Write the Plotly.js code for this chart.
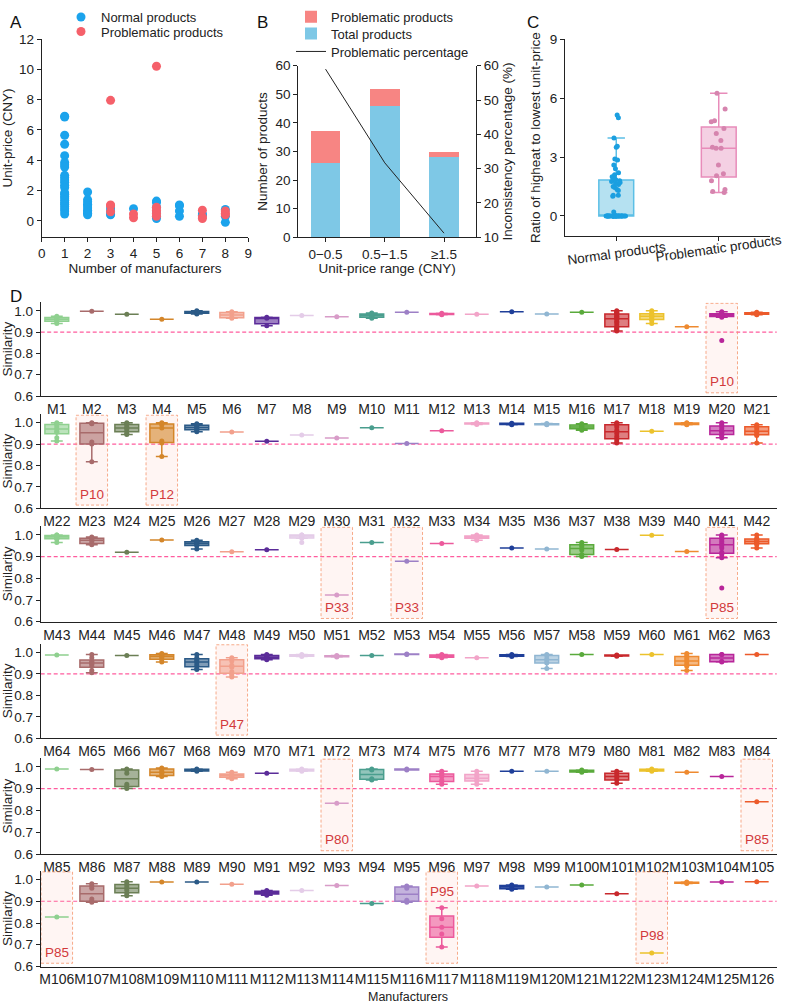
<!DOCTYPE html>
<html><head><meta charset="utf-8">
<script src="https://cdn.plot.ly/plotly-3.0.1.min.js"></script>
<style>body{margin:0;background:#fff}#chart{width:786px;height:1005px}</style>
</head><body><div id="chart"></div>
<script>
// ---------------- Panel A data ----------------
const aNormalX = [1,1,1,1,1,1,1,1,1,1,1,1,1,1,1,1,1,1,1,1,1,1,1,1,1,
                  2,2,2,2,2,2,2,2,2,2, 3,3,3,3, 4, 5,5,5,5,5,5, 6,6,6,6, 7,7, 8,8,8];
const aNormalY = [6.9,6.85,5.65,5.05,4.3,3.85,3.7,3.55,3.0,2.85,2.7,2.55,2.35,2.2,1.85,1.75,1.6,1.5,1.35,1.2,1.1,0.95,0.8,0.65,0.45,
                  1.9,1.4,1.25,1.1,1.0,0.85,0.7,0.6,0.5,0.4, 0.85,0.65,0.45,0.4, 0.8, 1.3,1.2,0.9,0.6,0.3,0.15, 1.05,1.0,0.65,0.3, 0.45,0.35, 0.75,0.3,-0.1];
const aProbX = [3,3,3,3, 4,4, 5,5,5,5,5, 7,7,7, 8,8,8];
const aProbY = [7.95,1.05,1.0,0.6, 0.45,0.2, 10.2,0.9,0.7,0.5,0.3, 0.7,0.25,0.15, 0.65,0.5,0.4];

// ---------------- Panel B data ----------------
const bCategories = ['0\u22120.5','0.5\u22121.5','\u22651.5'];
const bTotal = [26,46,28];
const bProblematic = [11,6,2];
const bPercentage = [59,31.7,11.2];

// ---------------- Panel C data ----------------
const cCategories = ['Normal products','Problematic products'];
const cNormal = [0,0,0,0,0,0,0,0,0,0,0,0,0,0,0,0,0,0,0,0,0,0,0,0,0,0,0,0,
  0.2,1.0,1.05,1.05,1.3,1.35,1.45,1.5,1.6,1.65,1.7,1.75,1.8,1.85,1.9,2.0,2.1,2.2,2.4,2.6,2.85,2.9,3.5,3.55,3.97,5.0,5.15];
const cProblematic = [1.2,1.25,1.35,1.8,2.05,2.15,2.6,3.45,3.45,3.5,3.85,4.2,4.45,4.8,4.85,5.45,6.25];

// ---------------- Panel D data ----------------
const simRow1 = [[0.94,0.95,0.955,0.96,0.965,0.97,0.975],[0.998],[0.984],[0.96],[0.985,0.99,0.993,0.996,1.0],
 [0.965,0.97,0.99,0.995],[0.93,0.965,0.97],[0.978],[0.972],[0.965,0.97,0.975,0.98,0.985,0.99],
 [0.993],[0.982,0.985,0.988],[0.984],[0.995],[0.985],[0.993],
 [0.905,0.91,0.915,0.92,0.925,0.935,0.945,0.95,0.96,0.965,0.97,0.975,0.98,0.985,0.99,0.99,0.995,1.0],
 [0.94,0.955,0.96,0.97,0.975,0.98,0.985,0.99,1.0],[0.925],[0.86,0.97,0.975,0.98,0.98,0.985,0.985,0.99,0.995],[0.982,0.985,0.988,0.99,0.993]];
const simRow2 = [[0.915,0.93,0.955,0.96,0.97,0.98,0.99,0.995,1.0],[0.817,0.9,0.91,0.995,0.998,1.0],[0.945,0.95,0.96,0.97,0.975,0.98,0.99,0.995,1.0],
 [0.842,0.905,0.915,0.975,0.99,0.995,1.0],[0.958,0.965,0.97,0.975,0.98,0.985,0.99,0.995],[0.957],[0.913],[0.942],[0.928],[0.976],
 [0.903],[0.962],[0.992,0.995,0.998,1.0],[0.99,0.995,0.998],[0.99,0.993,0.996],[0.965,0.97,0.975,0.98,0.985,0.99,0.995],
 [0.905,0.915,0.925,0.935,0.95,0.965,0.98,0.99,0.995,1.0],[0.96],[0.99,0.993,0.997,1.0],
 [0.93,0.94,0.945,0.955,0.96,0.965,0.975,0.985,0.99,1.0],[0.905,0.94,0.945,0.955,0.96,0.97,0.98,0.985,0.99]];
const simRow3 = [[0.965,0.98,0.985,0.99,0.99,0.995,1.0,1.0],[0.955,0.96,0.97,0.98,0.985,0.99],[0.92],[0.977],[0.935,0.95,0.955,0.96,0.965,0.97,0.975],
 [0.922],[0.932],[0.965,0.985,0.99,0.995,0.998,1.0,1.0],[0.723],[0.965],[0.878],[0.96],[0.975,0.985,0.99,0.992,0.995,1.0],[0.94],[0.935],
 [0.9,0.91,0.93,0.945,0.955,0.965],[0.933],[0.998],[0.923],[0.755,0.895,0.91,0.92,0.94,0.95,0.96,0.97,0.98,0.99,0.995,1.0],
 [0.94,0.955,0.96,0.965,0.97,0.975,0.98,0.985,1.0]];
const simRow4 = [[0.988],[0.905,0.915,0.935,0.945,0.95,0.955,0.96,0.975,0.99],[0.985],[0.955,0.965,0.975,0.98,0.985,0.99,0.995],
 [0.92,0.925,0.94,0.95,0.96,0.965,0.975,0.99],[0.885,0.895,0.91,0.93,0.94,0.96,0.97,0.975],[0.965,0.97,0.975,0.98,0.985,0.99],
 [0.98,0.985,0.99],[0.978,0.982,0.985],[0.985],[0.99,0.992],[0.975,0.98,0.985,0.99],[0.975],[0.98,0.985,0.99],
 [0.925,0.95,0.96,0.97,0.985,0.99],[0.99],[0.982,0.985,0.988],[0.99],[0.915,0.935,0.945,0.955,0.965,0.975,0.985,0.995],
 [0.955,0.958,0.99,0.99],[0.99]];
const simRow5 = [[0.99],[0.988],[0.9,0.91,0.92,0.97,0.985,0.99],[0.955,0.96,0.97,0.98,0.99,0.995],[0.98,0.985,0.99],
 [0.945,0.955,0.96,0.965,0.975],[0.97],[0.98,0.985,0.99],[0.833],[0.94,0.945,0.985,0.99],[0.985,0.99],
 [0.92,0.93,0.94,0.955,0.96,0.97,0.98],[0.92,0.935,0.94,0.955,0.965,0.98],[0.98],[0.98],[0.975,0.98,0.985],
 [0.925,0.94,0.95,0.96,0.97,0.98],[0.98,0.985,0.99],[0.975],[0.955],[0.84]];
const simRow6 = [[0.828],[0.895,0.9,0.91,0.96,0.97,0.98],[0.925,0.935,0.95,0.96,0.97,0.98,0.99],[0.988],[0.988],[0.978],
 [0.928,0.935,0.94,0.945,0.95],[0.95],[0.972],[0.89],[0.895,0.905,0.96,0.97],[0.69,0.75,0.78,0.82,0.87],[0.97],
 [0.955,0.96,0.97,0.975],[0.965],[0.975],[0.935],[0.662],[0.982,0.985,0.988],[0.988],[0.99]];
const simRows = [simRow1,simRow2,simRow3,simRow4,simRow5,simRow6];
const manufacturerNames = Array.from({length:126},(_,i)=>'M'+(i+1));
const highlightMfr = ['M20','M23','M25','M51','M53','M62','M69','M93','M105','M106','M117','M123'];
const highlightLabel = ['P10','P10','P12','P33','P33','P85','P47','P80','P85','P85','P95','P98'];
const threshold = 0.9;
const palette = ['#8fd08f','#a86b6b','#6b7f55','#d4862a','#2b5a87','#f2a08c','#5b2c99','#e4cce8','#d89cc8','#4a9e8e',
  '#9d80c6','#ec5a9c','#f2a4c8','#1f3f99','#90b6d2','#5aaa3c','#c8282c','#ecc22c','#ee8a30','#b8269a','#ec5a2a'];

// ---------------- helpers ----------------
const W=786,H=1005;
const FONT='Liberation Sans, Arial, sans-serif';
const px=x=>x/W, py=y=>1-y/H;
function rgba(hex,a){const n=parseInt(hex.slice(1),16);return `rgba(${n>>16},${(n>>8)&255},${n&255},${a})`;}
const axBase={showline:true,linecolor:'#222',linewidth:1,ticks:'outside',ticklen:4,tickcolor:'#222',showgrid:false,zeroline:false,
  tickfont:{family:FONT,size:13.5,color:'#222'}};
function oneLegend(x,y){return {x:px(x),y:py(y),xanchor:'left',yanchor:'middle',font:{size:13},bgcolor:'rgba(0,0,0,0)',itemwidth:30,borderwidth:0};}

const traces=[];
const layout={width:W,height:H,autosize:false,margin:{l:0,r:0,t:0,b:0},paper_bgcolor:'#fff',plot_bgcolor:'rgba(0,0,0,0)',
  font:{family:FONT,color:'#222',size:13},barmode:'stack',boxmode:'overlay',shapes:[],annotations:[],hovermode:false};

// Panel A
traces.push({type:'scatter',mode:'markers',x:aNormalX,y:aNormalY,name:'Normal products',marker:{color:'#1ba3ec',size:9},xaxis:'x',yaxis:'y',legend:'legend'});
traces.push({type:'scatter',mode:'markers',x:aProbX,y:aProbY,name:'Problematic products',marker:{color:'#f5606a',size:9},xaxis:'x',yaxis:'y',legend:'legend2'});
layout.xaxis={...axBase,domain:[px(41.7),px(248.3)],range:[0,9],dtick:1,anchor:'y',
  title:{text:'Number of manufacturers',font:{size:13.5},standoff:2}};
layout.yaxis={...axBase,domain:[py(237),py(39)],range:[-1.07,12],tickvals:[0,2,4,6,8,10,12],anchor:'x',
  title:{text:'Unit-price (CNY)',font:{size:13.5},standoff:4}};
layout.legend=oneLegend(61,17);
layout.legend2=oneLegend(61,31.5);

// Panel B
traces.push({type:'bar',x:bCategories,y:bTotal,name:'Total products',marker:{color:'#7ec8e6'},width:0.5,xaxis:'x2',yaxis:'y2',legend:'legend4'});
traces.push({type:'bar',x:bCategories,y:bProblematic,name:'Problematic products',marker:{color:'#f78583'},width:0.5,xaxis:'x2',yaxis:'y2',legend:'legend3'});
traces.push({type:'scatter',mode:'lines',x:bCategories,y:bPercentage,name:'Problematic percentage',line:{color:'#222',width:1},xaxis:'x2',yaxis:'y3',legend:'legend5'});
layout.xaxis2={...axBase,domain:[px(298.3),px(476)],type:'category',range:[-0.46,2.54],anchor:'y2',
  title:{text:'Unit-price range (CNY)',font:{size:13.5},standoff:2}};
layout.yaxis2={...axBase,domain:[py(237.3),py(65.7)],range:[0,60],dtick:10,anchor:'x2',
  title:{text:'Number of products',font:{size:13.5},standoff:4}};
layout.yaxis3={...axBase,overlaying:'y2',side:'right',range:[10,60],dtick:10,anchor:'x2',
  title:{text:'Inconsistency percentage (%)',font:{size:13.5},standoff:4}};
layout.legend3=oneLegend(291,16.7);
layout.legend4=oneLegend(291,33.5);
layout.legend5=oneLegend(291,51.5);

// Panel C
traces.push({type:'box',x:cNormal.map(()=>cCategories[0]),y:cNormal,xaxis:'x3',yaxis:'y4',showlegend:false,
  boxpoints:'all',jitter:0.6,pointpos:0,width:0.34,marker:{color:'#1b9fe0',size:5},line:{color:'#5cbfe6',width:1.5},fillcolor:'rgba(120,200,230,0.55)'});
traces.push({type:'box',x:cProblematic.map(()=>cCategories[1]),y:cProblematic,xaxis:'x3',yaxis:'y4',showlegend:false,
  boxpoints:'all',jitter:0.6,pointpos:0,width:0.34,marker:{color:'#d684ae',size:5},line:{color:'#e88cba',width:1.5},fillcolor:'rgba(230,150,192,0.45)'});
layout.xaxis3={...axBase,domain:[px(565),px(770)],type:'category',categoryarray:cCategories,range:[-0.5,1.5],anchor:'y4',showticklabels:false};
layout.yaxis4={...axBase,domain:[py(236),py(39.3)],range:[-1.02,9],dtick:3,anchor:'x3',
  title:{text:'Ratio of higheat to lowest unit-price',font:{size:13.5},standoff:6}};
[[cCategories[0],253],[cCategories[1],248]].forEach(([t,y])=>{
  layout.annotations.push({xref:'x3',yref:'paper',x:t,y:py(y),text:t,textangle:-8,showarrow:false,xanchor:'center',yanchor:'middle',
    font:{family:FONT,size:13.5,color:'#222'}});
});

// Panel D
const rowBottoms=[396,508.3,621.7,738.3,854,966.5];
const rowPer=[21.3,21.4,21.7,21.5,21.8,21.75];
simRows.forEach((row,r)=>{
  const xa='x'+(4+r), ya='y'+(5+r);
  const names=manufacturerNames.slice(r*21,r*21+21);
  row.forEach((vals,c)=>{
    const col=palette[c];
    traces.push({type:'box',x:vals.map(()=>names[c]),y:vals,xaxis:xa,yaxis:ya,showlegend:false,
      boxpoints:'all',jitter:0,pointpos:0,width:0.68,whiskerwidth:0.5,
      marker:{color:col,size:5},line:{color:col,width:1.5},fillcolor:rgba(col,0.6)});
  });
  const top=rowBottoms[r]-4.4*rowPer[r];
  layout['xaxis'+(4+r)]={...axBase,domain:[px(40.7),px(776.7)],type:'category',categoryarray:names,range:[-0.46,20.57],
    anchor:ya,tickangle:0,ticks:'',ticklen:0,tickfont:{family:FONT,size:14,color:'#222'}};
  layout['yaxis'+(5+r)]={...axBase,domain:[py(rowBottoms[r]),py(top)],range:[0.6,1.04],tickvals:[0.6,0.7,0.8,0.9,1.0],
    tickformat:'.1f',anchor:xa,title:{text:'Similarity',font:{size:13.5},standoff:4}};
  layout.shapes.push({type:'line',xref:xa+' domain',x0:0,x1:1,yref:ya,y0:threshold,y1:threshold,
    line:{color:'#ff5c9e',width:1.2,dash:'4px,2.5px'},layer:'below'});
  highlightMfr.forEach((m,k)=>{
    const idx=names.indexOf(m);
    if(idx<0) return;
    const vals=row[idx];
    const lo=Math.min(...vals), hi=Math.max(...vals);
    // label sits at the bottom of the band unless the marks occupy that region
    let ly=0.622, anchor='bottom';
    if(lo<0.7 && hi>0.85){ly=0.99; anchor='top';}
    else if(lo<0.7){ly=lo+0.035; anchor='bottom';}
    layout.shapes.push({type:'rect',xref:xa,yref:ya,x0:idx-0.45,x1:idx+0.45,y0:0.615,y1:1.035,
      fillcolor:'rgba(250,140,120,0.09)',line:{color:'rgba(245,150,110,0.8)',width:1,dash:'3px,2px'},layer:'below'});
    layout.annotations.push({xref:xa,yref:ya,x:idx,y:ly,yanchor:anchor,text:highlightLabel[k],showarrow:false,
      font:{family:FONT,size:13.5,color:'#d2393b'}});
  });
});
layout.annotations.push({xref:'paper',yref:'paper',x:px(408),y:py(1004.5),yanchor:'bottom',text:'Manufacturers',showarrow:false,
  font:{size:12.5},borderpad:0});

// Panel letters
[['A',9,12],['B',262,12],['C',540,12],['D',9,286]].forEach(([t,x,y])=>{
  layout.annotations.push({xref:'paper',yref:'paper',x:px(x),y:py(y),text:t,showarrow:false,font:{size:17,color:'#111'},borderpad:0});
});

Plotly.newPlot('chart',traces,layout,{staticPlot:true,displayModeBar:false});
</script>
</body></html>
